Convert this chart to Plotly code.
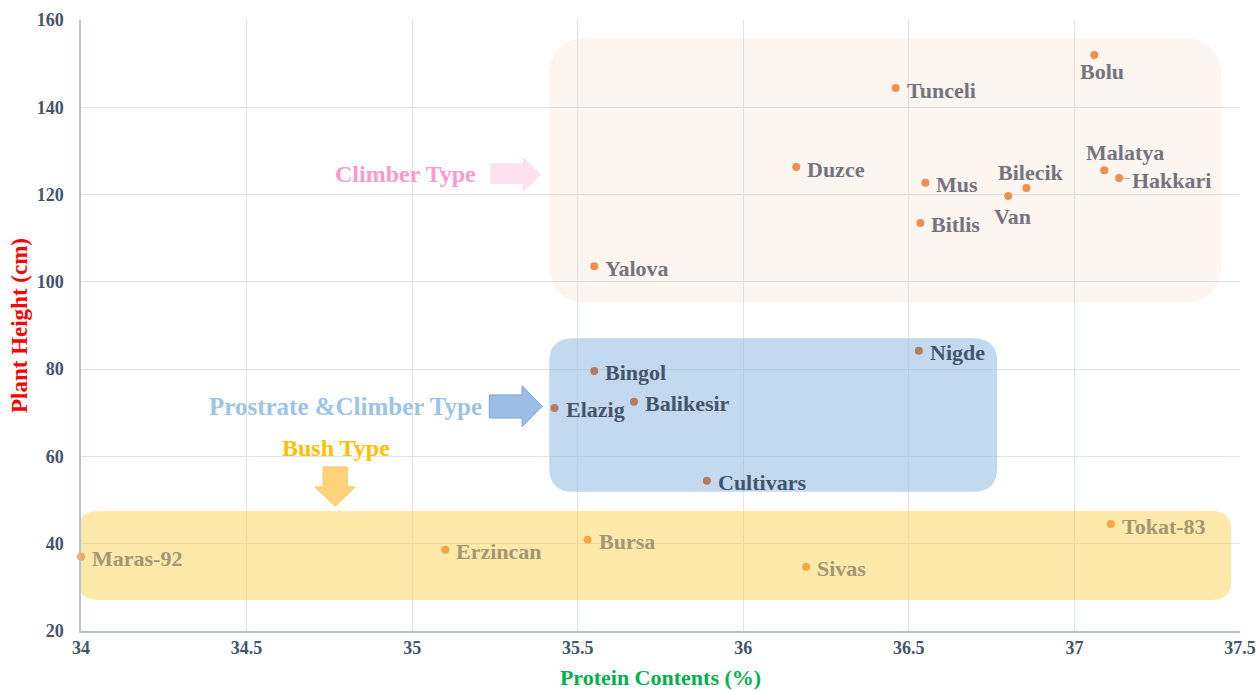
import plotly.graph_objects as go

# ---------------- data ----------------
climber_names = ["Bolu", "Tunceli", "Duzce", "Mus", "Bilecik", "Van", "Bitlis", "Malatya", "Hakkari", "Yalova"]
climber_protein = [37.06, 36.46, 36.16, 36.55, 36.855, 36.80, 36.535, 37.09, 37.135, 35.55]
climber_height = [152.0, 144.4, 126.3, 122.7, 121.5, 119.7, 113.5, 125.6, 123.8, 103.6]

prostrate_names = ["Nigde", "Bingol", "Elazig", "Balikesir", "Cultivars"]
prostrate_protein = [36.53, 35.55, 35.43, 35.67, 35.89]
prostrate_height = [84.2, 79.6, 71.1, 72.5, 54.4]

bush_names = ["Maras-92", "Erzincan", "Bursa", "Sivas", "Tokat-83"]
bush_protein = [34.0, 35.10, 35.53, 36.19, 37.11]
bush_height = [37.0, 38.6, 40.9, 34.7, 44.5]

x_ticks = [34, 34.5, 35, 35.5, 36, 36.5, 37, 37.5]
y_ticks = [20, 40, 60, 80, 100, 120, 140, 160]

# group regions (x0, x1, y0, y1) in data units
climber_box = (35.414, 37.444, 95.2, 155.9)
prostrate_box = (35.414, 36.767, 51.9, 87.1)
bush_box = (33.99, 37.474, 27.1, 47.5)

# ---------------- styles ----------------
FONT = "Liberation Serif"
X_RANGE = (34, 37.5)
Y_RANGE = (20, 160)
PX_PER_X = 331.0
PX_PER_Y = 4.364
LABEL_SIZE = 22

# label offsets (px) : (xanchor, xshift, yshift)
label_pos = {
    "Bolu": ("center", 8, -17),
    "Bilecik": ("center", 5, 16),
    "Van": ("center", 4, -21),
    "Malatya": ("center", 21, 18),
}
default_pos = ("left", 9, -2)


def rounded_path(box, r_px):
    x0, x1, y0, y1 = box
    rx = r_px / PX_PER_X
    ry = r_px / PX_PER_Y
    return (f"M {x0+rx},{y0} L {x1-rx},{y0} Q {x1},{y0} {x1},{y0+ry} "
            f"L {x1},{y1-ry} Q {x1},{y1} {x1-rx},{y1} L {x0+rx},{y1} "
            f"Q {x0},{y1} {x0},{y1-ry} L {x0},{y0+ry} Q {x0},{y0} {x0+rx},{y0} Z")


def right_arrow(x0, xh, xt, ys0, ys1, yh0, yh1):
    ym = (yh0 + yh1) / 2
    return (f"M {x0},{ys0} L {xh},{ys0} L {xh},{yh0} L {xt},{ym} "
            f"L {xh},{yh1} L {xh},{ys1} L {x0},{ys1} Z")


def down_arrow(xs0, xs1, xh0, xh1, ytop, yh, ytip):
    xm = (xh0 + xh1) / 2
    return (f"M {xs0},{ytop} L {xs1},{ytop} L {xs1},{yh} L {xh1},{yh} "
            f"L {xm},{ytip} L {xh0},{yh} L {xs0},{yh} Z")


fig = go.Figure()

groups = [
    (climber_names, climber_protein, climber_height, "#ef904f", "#74747f"),
    (prostrate_names, prostrate_protein, prostrate_height, "#b77a5a", "#44546a"),
    (bush_names, bush_protein, bush_height, "#f5a640", "#a39671"),
]

annotations = []
for names, xs, ys, mcol, tcol in groups:
    fig.add_trace(go.Scatter(
        x=xs, y=ys, mode="markers", cliponaxis=False,
        marker=dict(color=mcol, size=8),
        hovertext=names, showlegend=False,
    ))
    for n, x, y in zip(names, xs, ys):
        if n == "Hakkari":
            annotations.append(dict(
                x=x, y=y, xref="x", yref="y", text=f"<b>{n}</b>",
                showarrow=True, arrowhead=0, arrowwidth=1, arrowcolor="#b0b0b8",
                ax=52, ay=3, standoff=4,
                font=dict(family=FONT, size=LABEL_SIZE, color=tcol)))
            continue
        xa, xsft, ysft = label_pos.get(n, default_pos)
        annotations.append(dict(
            x=x, y=y, xref="x", yref="y", text=f"<b>{n}</b>", showarrow=False,
            xanchor=xa, yanchor="middle", xshift=xsft, yshift=ysft,
            font=dict(family=FONT, size=LABEL_SIZE, color=tcol)))

# group titles
annotations += [
    dict(x=34.98, y=124.8, xref="x", yref="y", text="<b>Climber Type</b>", showarrow=False,
         xanchor="center", yanchor="middle", font=dict(family=FONT, size=24, color="#ff99cc")),
    dict(x=34.80, y=71.5, xref="x", yref="y", text="<b>Prostrate &Climber Type</b>", showarrow=False,
         xanchor="center", yanchor="middle", font=dict(family=FONT, size=25, color="#9dc3e6")),
    dict(x=34.77, y=62.0, xref="x", yref="y", text="<b>Bush Type</b>", showarrow=False,
         xanchor="center", yanchor="middle", font=dict(family=FONT, size=24, color="#ffc000")),
]

shapes = [
    dict(type="path", path=rounded_path(climber_box, 40), xref="x", yref="y",
         fillcolor="rgba(245,200,170,0.18)", line=dict(width=0), layer="between"),
    dict(type="path", path=rounded_path(prostrate_box, 24), xref="x", yref="y",
         fillcolor="rgba(150,190,228,0.58)", line=dict(width=0), layer="between"),
    dict(type="path", path=rounded_path(bush_box, 20), xref="x", yref="y",
         fillcolor="rgba(252,210,80,0.48)", line=dict(width=0), layer="between"),
    dict(type="path", path=right_arrow(35.236, 35.335, 35.390, 127.2, 122.4, 128.6, 120.6),
         xref="x", yref="y", fillcolor="#fde1ef", line=dict(width=0), layer="above"),
    dict(type="path", path=right_arrow(35.233, 35.332, 35.393, 74.1, 68.8, 76.2, 66.8),
         xref="x", yref="y", fillcolor="#9bbde6", line=dict(width=1, color="#7ea5d6"), layer="above"),
    dict(type="path", path=down_arrow(34.731, 34.804, 34.707, 34.828, 57.6, 53.0, 48.6),
         xref="x", yref="y", fillcolor="#ffd37a", line=dict(width=1, color="#f7c663"), layer="above"),
]

fig.update_layout(
    width=1259, height=691,
    margin=dict(l=81, r=19, t=20, b=60, autoexpand=False),
    paper_bgcolor="white", plot_bgcolor="white",
    shapes=shapes, annotations=annotations,
    showlegend=False,
)
fig.update_xaxes(
    range=list(X_RANGE), tickvals=x_ticks, ticktext=[f"<b>{t:g}</b>" for t in x_ticks],
    showgrid=True, gridcolor="#dfe3eb", gridwidth=1, zeroline=False, automargin=False,
    showline=True, linecolor="#b9c0cc", linewidth=1.5, ticks="", ticklen=0,
    tickfont=dict(family=FONT, size=18, color="#44546a"),
    title=dict(text="<b>Protein Contents (%)</b>", standoff=12,
               font=dict(family=FONT, size=22, color="#00b050")),
)
fig.update_yaxes(
    range=list(Y_RANGE), tickvals=y_ticks, ticktext=[f"<b>{t}</b>" for t in y_ticks],
    showgrid=True, gridcolor="#dfe3eb", gridwidth=1, zeroline=False, automargin=False,
    showline=True, linecolor="#b9c0cc", linewidth=1.5, ticks="", ticklen=0,
    ticklabelstandoff=12,
    tickfont=dict(family=FONT, size=18, color="#44546a"),
    title=dict(text="<b>Plant Height (cm)</b>", standoff=3,
               font=dict(family=FONT, size=23, color="#ff0000")),
)

fig.write_html("out.html", config={"displayModeBar": False},
               post_script="document.body.style.margin='0';")
